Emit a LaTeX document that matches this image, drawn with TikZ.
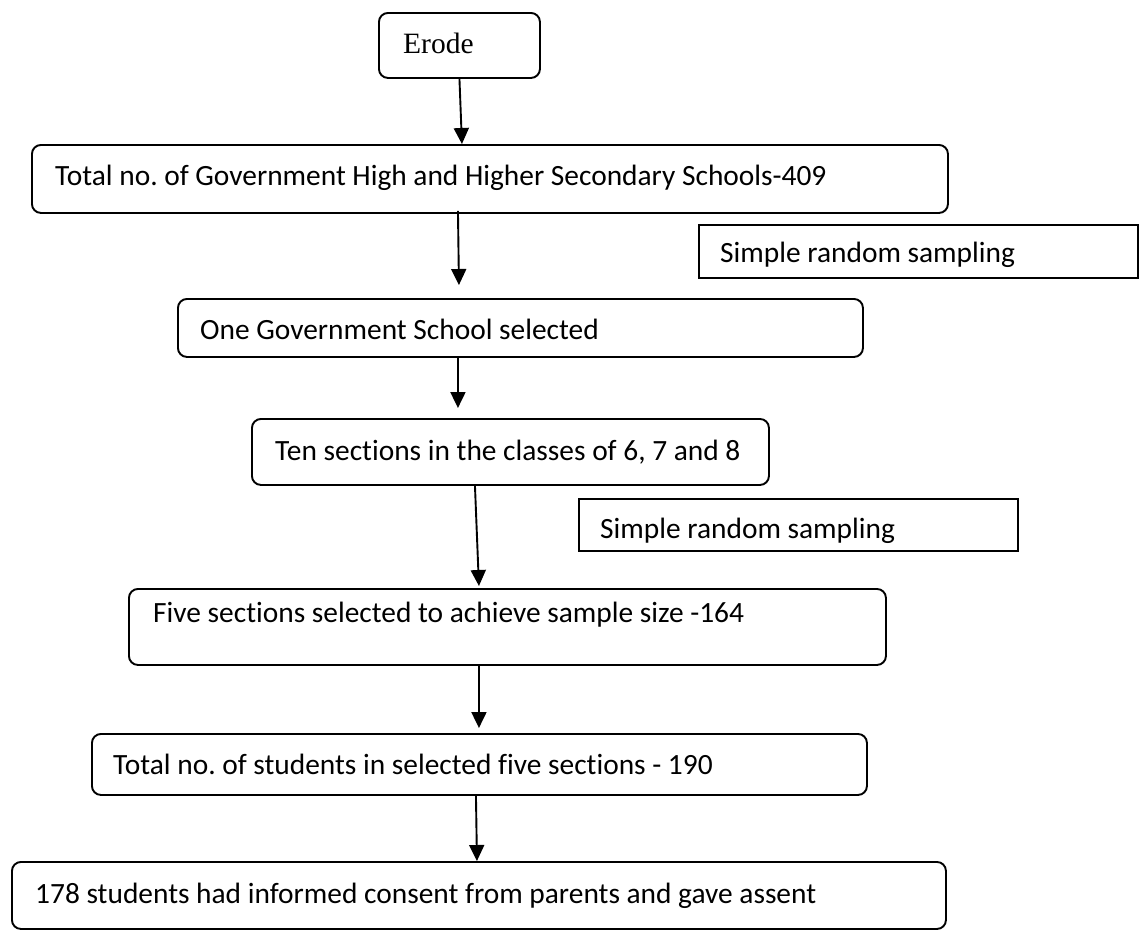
\documentclass[tikz,border=0pt]{standalone}
\usepackage{fontspec}
\setmainfont[Ligatures=NoCommon]{Carlito}
\newfontfamily\timesf{Liberation Serif}
\usetikzlibrary{arrows.meta}
\frenchspacing
\begin{document}
\begin{tikzpicture}[x=1pt,y=-1pt,
  box/.style={draw, line width=1.9pt, rounded corners=9pt, inner sep=0pt, anchor=north west},
  sq/.style={draw, line width=1.9pt, inner sep=0pt, anchor=north west},
  txt/.style={anchor=base west, inner sep=0pt, font=\fontsize{29.4}{31}\selectfont},
  arr/.style={line width=1.9pt, -{Triangle[length=16pt,width=15pt]}}]
\useasboundingbox (0,0) rectangle (1139,930);
% boxes
\node[box, minimum width=161pt, minimum height=65pt] (e) at (378,12) {};
\node[box, minimum width=916pt, minimum height=68pt] (b1) at (31,144) {};
\node[sq,  minimum width=439pt, minimum height=53pt] (s1) at (698,224) {};
\node[box, minimum width=685pt, minimum height=58pt] (b2) at (177,298) {};
\node[box, minimum width=517pt, minimum height=66pt] (b3) at (251,418) {};
\node[sq,  minimum width=439pt, minimum height=52pt] (s2) at (578,498) {};
\node[box, minimum width=757pt, minimum height=76pt] (b4) at (128,588) {};
\node[box, minimum width=775pt, minimum height=61pt] (b5) at (91,733) {};
\node[box, minimum width=934pt, minimum height=67pt] (b6) at (11,861) {};
% texts
\node[txt, font=\timesf\fontsize{29.5}{31}\selectfont] (te) at (403,53) {Erode};
\node[txt] (t1) at (55,185) {Total no. of Government High and Higher Secondary Schools-409};
\node[txt] (ts1) at (720,262) {Simple random sampling};
\node[txt] (t2) at (200,339) {One Government School selected};
\node[txt] (t3) at (275,460) {Ten sections in the classes of 6, 7 and 8};
\node[txt] (ts2) at (600,538) {Simple random sampling};
\node[txt] (t4) at (153,622) {Five sections selected to achieve sample size -164};
\node[txt] (t5) at (113,774) {Total no. of students in selected five sections - 190};
\node[txt] (t6) at (35,903) {178 students had informed consent from parents and gave assent};
% arrows
\draw[arr] (e.south) -- ([xshift=-28pt]b1.north);
\draw[arr] ([xshift=-32pt,yshift=3pt]b1.south) -- ([xshift=-61.5pt,yshift=13pt]b2.north);
\draw[arr] ([xshift=-62.5pt]b2.south) -- ([xshift=-52.5pt,yshift=10pt]b3.north);
\draw[arr] ([xshift=-35.5pt]b3.south) -- ([xshift=-28.5pt,yshift=2pt]b4.north);
\draw[arr] ([xshift=-28.5pt]b4.south) -- ([xshift=-0.5pt,yshift=5pt]b5.north);
\draw[arr] ([xshift=-3.5pt]b5.south) -- ([xshift=-2pt]b6.north);
\end{tikzpicture}
\end{document}
